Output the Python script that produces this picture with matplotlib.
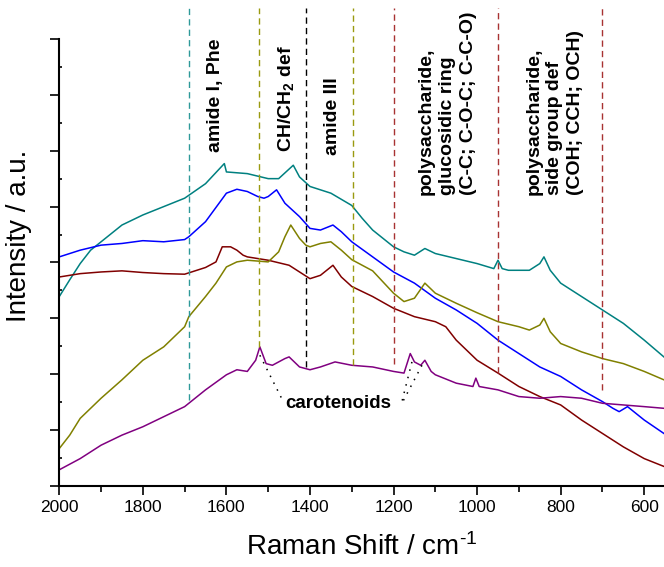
import matplotlib
matplotlib.use('Agg')
import matplotlib.pyplot as plt
from matplotlib.ticker import MultipleLocator, NullFormatter

plt.rcParams['font.family'] = ['Liberation Sans', 'DejaVu Sans']
plt.rcParams['mathtext.fontset'] = 'custom'
plt.rcParams['mathtext.rm'] = 'Liberation Sans'
plt.rcParams['mathtext.it'] = 'Liberation Sans:italic'
plt.rcParams['mathtext.bf'] = 'Liberation Sans:bold'

# --- spectra (Raman shift in cm-1, intensity in a.u.) ---
teal_x = [2000, 1975, 1950, 1925, 1900, 1850, 1800, 1750, 1700, 1650, 1605, 1600, 1550, 1500, 1475,
          1440, 1425, 1400, 1350, 1300, 1275, 1250, 1225, 1200, 1175, 1150, 1125, 1100, 1050, 1000,
          960, 950, 940, 925, 900, 875, 850, 840, 825, 800, 750, 700, 650, 600, 553]
teal_y = [3.39, 3.69, 3.98, 4.22, 4.37, 4.67, 4.85, 5.00, 5.15, 5.41, 5.77, 5.62, 5.59, 5.50, 5.50,
          5.74, 5.53, 5.36, 5.24, 5.02, 4.79, 4.58, 4.43, 4.28, 4.19, 4.13, 4.25, 4.16, 4.07, 3.98,
          3.89, 4.04, 3.89, 3.86, 3.86, 3.86, 3.98, 4.10, 3.86, 3.63, 3.39, 3.15, 2.91, 2.61, 2.31]

blue_x = [2000, 1950, 1900, 1850, 1800, 1750, 1700, 1690, 1650, 1600, 1575, 1550, 1525, 1510, 1500,
          1480, 1460, 1425, 1400, 1375, 1345, 1325, 1300, 1250, 1200, 1150, 1100, 1050, 1000, 950,
          900, 850, 800, 750, 700, 675, 660, 640, 620, 600, 553]
blue_y = [4.10, 4.22, 4.31, 4.34, 4.39, 4.37, 4.41, 4.46, 4.73, 5.24, 5.31, 5.27, 5.18, 5.15, 5.18,
          5.30, 5.06, 4.82, 4.61, 4.58, 4.67, 4.55, 4.37, 4.10, 3.83, 3.63, 3.36, 3.15, 2.91, 2.61,
          2.37, 2.13, 1.96, 1.72, 1.51, 1.39, 1.33, 1.42, 1.30, 1.18, 0.94]

red_x = [2000, 1950, 1900, 1850, 1800, 1750, 1700, 1650, 1625, 1610, 1590, 1575, 1560, 1550, 1500,
         1450, 1425, 1400, 1375, 1345, 1325, 1300, 1250, 1200, 1150, 1100, 1075, 1050, 1000, 950,
         900, 850, 800, 750, 700, 650, 600, 553]
red_y = [3.74, 3.80, 3.83, 3.85, 3.82, 3.80, 3.79, 3.91, 4.01, 4.28, 4.28, 4.22, 4.13, 4.10, 4.04,
         3.95, 3.83, 3.71, 3.77, 3.95, 3.74, 3.57, 3.39, 3.18, 3.03, 2.94, 2.85, 2.61, 2.25, 2.02,
         1.78, 1.60, 1.45, 1.18, 0.94, 0.70, 0.49, 0.35]

olive_x = [2000, 1975, 1950, 1900, 1850, 1800, 1750, 1700, 1690, 1650, 1625, 1600, 1575, 1550, 1500,
           1475, 1460, 1446, 1425, 1410, 1400, 1375, 1350, 1325, 1300, 1250, 1225, 1200, 1175, 1150,
           1125, 1100, 1050, 1000, 950, 900, 875, 850, 840, 825, 800, 750, 700, 650, 600, 553]
olive_y = [0.67, 0.91, 1.21, 1.57, 1.90, 2.25, 2.49, 2.85, 3.03, 3.39, 3.63, 3.92, 4.01, 4.04, 4.01,
           4.19, 4.46, 4.67, 4.43, 4.31, 4.28, 4.34, 4.37, 4.22, 4.05, 3.85, 3.65, 3.45, 3.30, 3.36,
           3.63, 3.45, 3.27, 3.10, 2.94, 2.85, 2.79, 2.88, 3.00, 2.76, 2.55, 2.40, 2.28, 2.19, 2.05, 1.90]

purple_x = [2000, 1950, 1900, 1850, 1800, 1750, 1700, 1650, 1600, 1575, 1550, 1530, 1520, 1505, 1490,
            1460, 1450, 1425, 1400, 1375, 1340, 1300, 1250, 1200, 1175, 1160, 1150, 1135, 1125, 1110,
            1100, 1050, 1010, 1003, 995, 950, 900, 850, 800, 750, 700, 650, 600, 553]
purple_y = [0.29, 0.49, 0.73, 0.91, 1.06, 1.24, 1.42, 1.72, 1.99, 2.08, 2.05, 2.25, 2.49, 2.19, 2.16,
            2.28, 2.31, 2.13, 2.08, 2.13, 2.22, 2.16, 2.13, 2.05, 2.02, 2.37, 2.22, 2.16, 2.25, 2.05,
            1.99, 1.84, 1.78, 1.93, 1.78, 1.72, 1.60, 1.57, 1.60, 1.57, 1.48, 1.45, 1.42, 1.39]

spectra = [(teal_x, teal_y, '#008080'),
           (blue_x, blue_y, '#0000ff'),
           (red_x, red_y, '#800000'),
           (olive_x, olive_y, '#808000'),
           (purple_x, purple_y, '#800080')]

# --- band markers (dashed lines) ---
band_x = [1690, 1522, 1410, 1297, 1200, 950, 700]
band_low = [1.54, 2.49, 2.13, 2.16, 2.19, 2.02, 1.72]
band_top = 8.55
band_colors = ['#2e9999', '#9a9a10', 'black', '#9a9a10', '#a83232', '#a83232', '#a83232']

# --- band assignments ---
label_text = ['amide I, Phe',
              r'CH/CH$_\mathbf{2}$ def',
              'amide III',
              'polysaccharide,\nglucosidic ring\n(C-C; C-O-C; C-C-O)',
              'polysaccharide,\nside group def\n(COH; CCH; OCH)']
label_x = [1625, 1457, 1345, 1071, 814]
label_y = [5.97, 5.97, 5.92, 5.21, 5.21]

# carotenoid pointers: (x0, y0) -> (x1, y1)
car_lines = [((1520, 2.34), (1468, 1.57)),
             ((1156, 2.22), (1182, 1.45)),
             ((1132, 2.16), (1182, 1.45))]

fig = plt.figure(figsize=(6.64, 5.67), dpi=100)
ax = fig.add_axes([0.0893, 0.1429, 0.9107, 0.7884])

for xs, ys, c in spectra:
    ax.plot(xs, ys, color=c, lw=1.1)

for x, lo, c in zip(band_x, band_low, band_colors):
    ax.plot([x, x], [lo, band_top], color=c, lw=1.0, ls=(0, (4.5, 3)), clip_on=False)

for t, x, y in zip(label_text, label_x, label_y):
    ax.text(x, y, t, rotation=90, ha='center', va='bottom', multialignment='left',
            fontsize=14, fontweight='bold', linespacing=1.3)

for (x0, y0), (x1, y1) in car_lines:
    ax.plot([x0, x1], [y0, y1], color='black', lw=1.1, ls=(0, (1, 4)))
ax.text(1333, 1.40, 'carotenoids', ha='center', va='baseline', fontsize=13.5, fontweight='bold')

ax.set_xlim(2000, 552.7)
ax.set_ylim(0, 8)
ax.xaxis.set_major_locator(MultipleLocator(200))
ax.xaxis.set_minor_locator(MultipleLocator(100))
ax.yaxis.set_major_locator(MultipleLocator(1))
ax.yaxis.set_minor_locator(MultipleLocator(0.5))
ax.yaxis.set_major_formatter(NullFormatter())

ax.tick_params(axis='x', which='major', direction='out', length=6.5, width=1.2, labelsize=12.5)
ax.tick_params(axis='x', which='minor', direction='out', length=4, width=1.2)
ax.tick_params(axis='y', which='major', direction='out', length=6.5, width=1.2)
ax.tick_params(axis='y', which='minor', direction='in', length=2.5, width=1.2)

for side in ['top', 'right']:
    ax.spines[side].set_visible(False)
for side in ['left', 'bottom']:
    ax.spines[side].set_linewidth(1.5)

ax.set_ylabel('Intensity / a.u.', fontsize=20)
ax.yaxis.set_label_coords(-0.045, 0.559)
ax.set_xlabel(r'Raman Shift / cm$^{\text{-}1}$', fontsize=20)
ax.xaxis.set_label_coords(0.5006, -0.105)

fig.savefig('out.png', dpi=100)
